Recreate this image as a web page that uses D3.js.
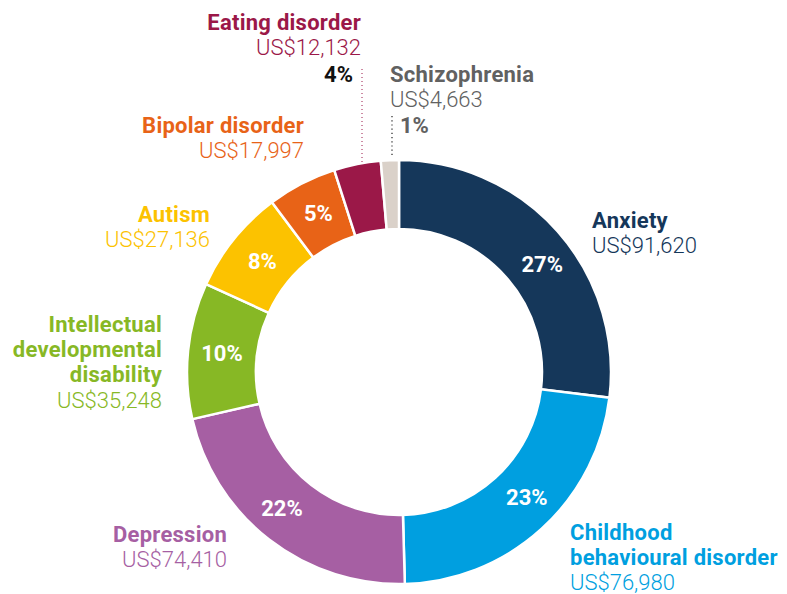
<!DOCTYPE html>
<html><head><meta charset="utf-8">
<script src="https://cdn.jsdelivr.net/npm/d3@7"></script>
<style>
html,body{margin:0;padding:0;background:#fff;}
text{font-family:Roboto,"Noto Sans",sans-serif;}
</style></head>
<body><svg id="c" width="787" height="594"></svg>
<script>
const categories = ["Anxiety","Childhood behavioural disorder","Depression","Intellectual developmental disability","Autism","Bipolar disorder","Eating disorder","Schizophrenia"];
const values = [91620,76980,74410,35248,27136,17997,12132,4663];
const valueLabels = ["US$91,620","US$76,980","US$74,410","US$35,248","US$27,136","US$17,997","US$12,132","US$4,663"];
const nameLines = [["Anxiety"],["Childhood","behavioural disorder"],["Depression"],["Intellectual","developmental","disability"],["Autism"],["Bipolar disorder"],["Eating disorder"],["Schizophrenia"]];

const sliceColors = ["#15375a","#009fe0","#a65fa3","#87b825","#fcc200","#e86317","#9b1848","#dad1c9"];
const textColors = ["#15375a","#009fe0","#a65fa3","#87b825","#fcc200","#e86317","#9b1848","#616161"];

const svg = d3.select("#c");
const cx = 399, cy = 372, R = 212, r0 = 143;
const FS = 22;
const g = svg.append("g").attr("transform",`translate(${cx},${cy})`);
const total = d3.sum(values);
const data = categories.map((c,i)=>({c, v:values[i], i}));
const pie = d3.pie().value(d=>d.v).sort(null);
const arcs = pie(data);
const arc = d3.arc().innerRadius(r0).outerRadius(R);
const labelArc = d3.arc().innerRadius(178).outerRadius(178);

g.selectAll("path").data(arcs).join("path")
  .attr("d",arc).attr("fill",d=>sliceColors[d.data.i])
  .attr("stroke","#fff").attr("stroke-width",2.5).attr("stroke-linejoin","miter");

const pct = v => Math.round(v/total*100)+"%";

// inside percentages (centroid + small layout nudge)
const nudge = [[10,10],[8,-6],[-8,-4],[0,-1],[2,1],[1,-1]];
arcs.forEach(a=>{
  if (a.data.i>=6) return;
  const [x,y] = labelArc.centroid(a);
  const n = nudge[a.data.i];
  g.append("text").attr("x",x+n[0]).attr("y",y+n[1]).attr("dy","0.355em")
    .attr("text-anchor","middle").attr("fill","#fff")
    .attr("font-weight",700).attr("font-size",FS).text(pct(a.data.v));
});

// outer labels: anchor x, first baseline y, alignment
const labelPos = [
  {x:592,y:228,a:"start"},
  {x:570,y:540,a:"start"},
  {x:227,y:542,a:"end"},
  {x:162,y:332,a:"end"},
  {x:210,y:222,a:"end"},
  {x:304,y:133,a:"end"},
  {x:361,y:30,a:"end"},
  {x:390,y:82,a:"start"}
];
const lh = 25.2;
labelPos.forEach((p,i)=>{
  const t = svg.append("text").attr("text-anchor",p.a).attr("font-size",FS);
  nameLines[i].forEach((ln,k)=>{
    t.append("tspan").attr("x",p.x).attr("y",p.y+k*lh).attr("font-weight",700)
      .attr("letter-spacing",0.25).attr("fill",textColors[i]).text(ln);
  });
  t.append("tspan").attr("x",p.x).attr("y",p.y+nameLines[i].length*lh)
    .attr("font-weight",300).attr("fill",textColors[i]).text(valueLabels[i]);
});

// small slices: outside percentages with dotted leaders
const eat = arcs[6], sch = arcs[7];
function outerPoint(a){ const ang=(a.startAngle+a.endAngle)/2; return [cx+Math.sin(ang)*R, cy-Math.cos(ang)*R]; }
const pe = outerPoint(eat), ps = outerPoint(sch);
svg.append("line").attr("x1",362).attr("x2",362).attr("y1",69).attr("y2",pe[1]-2)
  .attr("stroke","#9b1848").attr("stroke-width",1).attr("stroke-dasharray","1,3");
svg.append("text").attr("x",353).attr("y",82).attr("text-anchor","end")
  .attr("font-weight",700).attr("font-size",FS).attr("fill","#111").text(pct(eat.data.v));
svg.append("line").attr("x1",392).attr("x2",392).attr("y1",116).attr("y2",ps[1]-3)
  .attr("stroke","#222").attr("stroke-width",1.2).attr("stroke-dasharray","1.2,3");
svg.append("text").attr("x",400).attr("y",133).attr("text-anchor","start")
  .attr("font-weight",700).attr("font-size",FS).attr("fill","#616161").text(pct(sch.data.v));
</script></body></html>
